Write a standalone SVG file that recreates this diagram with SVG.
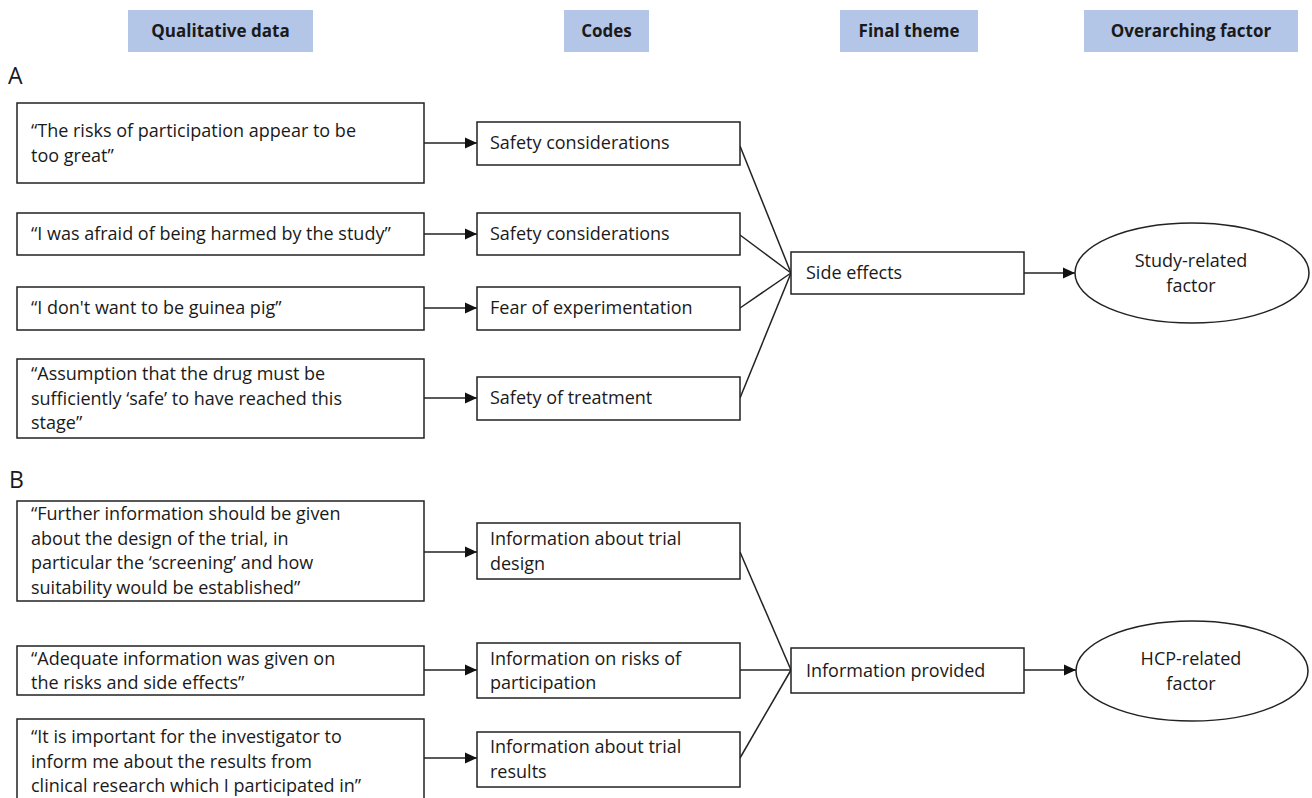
<svg xmlns="http://www.w3.org/2000/svg" width="1312" height="798" viewBox="0 0 1312 798">
<defs>
<style>
.hdr{fill:#b4c6e7;stroke:none}
.ht{font-family:"Open Sans","Liberation Sans",sans-serif;font-weight:bold;font-size:17px;fill:#1a1a1a;text-anchor:middle}
.box{fill:#fff;stroke:#222;stroke-width:1.5}
.t{font-family:"Open Sans","Liberation Sans",sans-serif;font-size:18px;fill:#1a1a1a}
.tc{text-anchor:middle}
.lbl{font-family:"Open Sans","Liberation Sans",sans-serif;font-size:23px;fill:#1a1a1a}
.ln{stroke:#222;stroke-width:1.5;fill:none}
</style>
<marker id="ah" markerUnits="userSpaceOnUse" markerWidth="12" markerHeight="12" viewBox="0 0 12 12" refX="12" refY="6" orient="auto">
<path d="M0,0.5 L12,6 L0,11.5 Z" fill="#111"/>
</marker>
</defs>
<rect width="1312" height="798" fill="#fff"/>

<g id="headers">
<g id="h-qual"><rect class="hdr" x="128" y="10" width="185" height="42"/><text class="ht" x="220.5" y="37">Qualitative data</text></g>
<g id="h-codes"><rect class="hdr" x="564" y="10" width="85" height="42"/><text class="ht" x="606.5" y="37">Codes</text></g>
<g id="h-theme"><rect class="hdr" x="840" y="10" width="138" height="42"/><text class="ht" x="909" y="37">Final theme</text></g>
<g id="h-factor"><rect class="hdr" x="1084" y="10" width="214" height="42"/><text class="ht" x="1191" y="37">Overarching factor</text></g>
</g>

<text class="lbl" x="8" y="84">A</text>
<text class="lbl" x="9" y="488">B</text>

<g id="connectors">
<line class="ln" x1="424" y1="143" x2="477" y2="143" marker-end="url(#ah)"/>
<line class="ln" x1="424" y1="234" x2="477" y2="234" marker-end="url(#ah)"/>
<line class="ln" x1="424" y1="308" x2="477" y2="308" marker-end="url(#ah)"/>
<line class="ln" x1="424" y1="398" x2="477" y2="398" marker-end="url(#ah)"/>
<line class="ln" x1="740" y1="146" x2="791" y2="273"/>
<line class="ln" x1="740" y1="235" x2="791" y2="273"/>
<line class="ln" x1="740" y1="308" x2="791" y2="273"/>
<line class="ln" x1="740" y1="398" x2="791" y2="273"/>
<line class="ln" x1="1024" y1="273" x2="1075" y2="273" marker-end="url(#ah)"/>
<line class="ln" x1="424" y1="552" x2="477" y2="552" marker-end="url(#ah)"/>
<line class="ln" x1="424" y1="670" x2="477" y2="670" marker-end="url(#ah)"/>
<line class="ln" x1="424" y1="758" x2="477" y2="758" marker-end="url(#ah)"/>
<line class="ln" x1="740" y1="552" x2="791" y2="670"/>
<line class="ln" x1="740" y1="670" x2="791" y2="670"/>
<line class="ln" x1="740" y1="758" x2="791" y2="670"/>
<line class="ln" x1="1024" y1="670" x2="1076" y2="670" marker-end="url(#ah)"/>
</g>

<g id="qa1"><rect class="box" x="17" y="103" width="407" height="80"/>
<text class="t"><tspan x="31" y="137">“The risks of participation appear to be</tspan><tspan x="31" y="161.5">too great”</tspan></text></g>
<g id="qa2"><rect class="box" x="17" y="213" width="407" height="42"/>
<text class="t" x="31" y="240">“I was afraid of being harmed by the study”</text></g>
<g id="qa3"><rect class="box" x="17" y="287" width="407" height="43"/>
<text class="t" x="31" y="314">“I don't want to be guinea pig”</text></g>
<g id="qa4"><rect class="box" x="17" y="359" width="407" height="79"/>
<text class="t"><tspan x="31" y="380">“Assumption that the drug must be</tspan><tspan x="31" y="404.5">sufficiently ‘safe’ to have reached this</tspan><tspan x="31" y="429">stage”</tspan></text></g>

<g id="ca1"><rect class="box" x="477" y="122" width="263" height="43"/><text class="t" x="490" y="149">Safety considerations</text></g>
<g id="ca2"><rect class="box" x="477" y="213" width="263" height="42"/><text class="t" x="490" y="240">Safety considerations</text></g>
<g id="ca3"><rect class="box" x="477" y="287" width="263" height="43"/><text class="t" x="490" y="314">Fear of experimentation</text></g>
<g id="ca4"><rect class="box" x="477" y="377" width="263" height="43"/><text class="t" x="490" y="404">Safety of treatment</text></g>

<g id="theme-a"><rect class="box" x="791" y="252" width="233" height="42"/><text class="t" x="806" y="279">Side effects</text></g>
<g id="factor-a"><ellipse class="box" cx="1192" cy="273" rx="117" ry="50"/>
<text class="t tc"><tspan x="1191" y="267">Study-related</tspan><tspan x="1191" y="291.5">factor</tspan></text></g>

<g id="qb1"><rect class="box" x="17" y="501" width="407" height="100"/>
<text class="t"><tspan x="31" y="520">“Further information should be given</tspan><tspan x="31" y="544.5">about the design of the trial, in</tspan><tspan x="31" y="569">particular the ‘screening’ and how</tspan><tspan x="31" y="593.5">suitability would be established”</tspan></text></g>
<g id="qb2"><rect class="box" x="17" y="646" width="407" height="49"/>
<text class="t"><tspan x="31" y="664.5">“Adequate information was given on</tspan><tspan x="31" y="689">the risks and side effects”</tspan></text></g>
<g id="qb3"><rect class="box" x="17" y="719" width="407" height="90"/>
<text class="t"><tspan x="31" y="743">“It is important for the investigator to</tspan><tspan x="31" y="767.5">inform me about the results from</tspan><tspan x="31" y="792">clinical research which I participated in”</tspan></text></g>

<g id="cb1"><rect class="box" x="477" y="523" width="263" height="56"/>
<text class="t"><tspan x="490" y="545">Information about trial</tspan><tspan x="490" y="569.5">design</tspan></text></g>
<g id="cb2"><rect class="box" x="477" y="643" width="263" height="55"/>
<text class="t"><tspan x="490" y="664.5">Information on risks of</tspan><tspan x="490" y="689">participation</tspan></text></g>
<g id="cb3"><rect class="box" x="477" y="732" width="263" height="55"/>
<text class="t"><tspan x="490" y="753">Information about trial</tspan><tspan x="490" y="777.5">results</tspan></text></g>

<g id="theme-b"><rect class="box" x="791" y="648" width="233" height="45"/><text class="t" x="806" y="677">Information provided</text></g>
<g id="factor-b"><ellipse class="box" cx="1192" cy="671" rx="116" ry="50"/>
<text class="t tc"><tspan x="1191" y="665">HCP-related</tspan><tspan x="1191" y="689.5">factor</tspan></text></g>
</svg>
